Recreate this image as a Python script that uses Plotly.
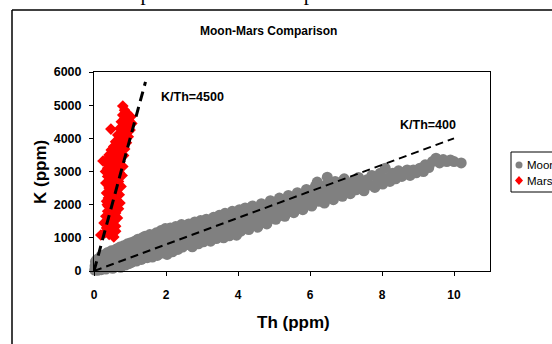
import plotly.graph_objects as go

# ---------------- data ----------------
moon_th = [0.02,0.03,0.04,0.06,0.07,0.08,0.1,0.1,0.12,0.13,0.15,0.16,0.18,0.2,0.2,0.22,0.24,0.25,0.27,0.28,
           0.3,0.32,0.33,0.35,0.37,0.38,0.4,0.42,0.44,0.46,0.48,0.5,0.52,0.53,0.55,0.57,0.6,0.62,0.64,0.65,
           0.68,0.7,0.72,0.74,0.75,0.78,0.8,0.82,0.85,0.87,0.88,0.9,0.93,0.95,0.97,0.98,1.0,
           1.02,1.04,1.06,1.08,1.1,1.13,1.15,1.18,1.2,1.22,1.25,1.28,1.3,1.32,1.34,1.37,1.4,1.42,1.45,1.48,
           1.5,1.52,1.55,1.58,1.6,1.62,1.65,1.68,1.7,1.73,1.76,1.78,1.8,1.83,1.86,1.88,1.9,1.93,1.96,1.98,
           2.0,2.03,2.06,2.1,2.12,2.15,2.18,2.2,2.24,2.27,2.3,2.33,2.36,2.4,2.43,2.46,2.5,2.53,2.56,2.6,
           2.63,2.66,2.7,2.73,2.76,2.8,2.83,2.86,2.9,2.93,2.96,3.0,
           3.04,3.08,3.12,3.16,3.2,3.24,3.28,3.32,3.36,3.4,3.44,3.48,3.52,3.56,3.6,3.64,3.68,3.72,3.76,3.8,
           3.84,3.88,3.92,3.96,4.0,
           4.04,4.08,4.12,4.16,4.2,4.25,4.3,4.35,4.4,4.45,4.5,4.55,4.6,4.65,4.7,4.75,4.8,4.85,4.9,4.95,5.0,
           5.05,5.1,5.15,5.2,5.25,5.3,5.35,5.4,5.45,5.5,5.55,5.6,5.65,5.7,5.75,5.8,5.85,5.9,5.95,6.0,
           6.05,6.1,6.15,6.2,6.25,6.3,6.35,6.4,6.45,6.48,6.52,6.56,6.6,6.65,6.7,6.75,6.8,6.85,6.9,6.95,7.0,
           7.05,7.12,7.2,7.28,7.35,7.42,7.5,7.58,7.65,7.72,7.8,7.88,7.95,
           8.02,8.09,8.15,8.22,8.3,8.38,8.46,8.55,8.64,8.7,8.78,8.87,8.95,
           9.05,9.15,9.2,9.3,9.4,9.5,9.6,9.7,9.8,9.9,10.0,10.2]
moon_k = [30,150,280,80,200,340,20,130,250,380,70,190,320,40,450,160,290,400,100,230,
          500,340,60,440,260,560,120,370,500,220,610,320,80,460,170,560,280,660,140,420,
          230,580,720,110,370,490,260,760,620,180,420,540,820,330,220,680,470,
          850,260,590,380,730,900,500,300,660,960,440,790,580,350,1000,700,480,1050,820,400,
          640,930,1100,520,760,420,1000,880,620,1150,470,800,1050,700,1220,540,920,1100,620,1280,
          820,500,1020,700,1300,900,580,1150,780,1340,1000,650,1220,880,1400,720,1080,960,1300,800,
          1420,1150,880,730,1270,1480,1000,1150,820,1380,1520,1080,
          880,1250,1560,1000,1400,900,1180,1620,1300,980,1500,1680,1100,1360,1000,1740,1560,1220,1060,1440,
          1800,1300,1620,1080,1500,
          1850,1200,1680,1380,1900,1550,1250,1760,1960,1450,1640,1320,1850,2030,1560,1720,1420,1950,2120,1640,1820,
          1560,2000,2200,1720,1900,1650,2080,2280,1800,1980,1760,2150,2360,1900,2060,1850,2250,2460,2000,2150,
          1960,2350,2560,2680,2100,2250,2450,2050,2600,2830,2200,2380,2520,2150,2700,2300,2450,2620,2250,2780,2400,
          2550,2330,2700,2450,2820,2580,2420,2750,2600,2880,2520,2700,2950,
          2620,3100,2800,2700,2950,2780,3020,2850,2985,3045,2880,3045,2960,
          3100,3000,3200,3120,3300,3400,3260,3360,3300,3350,3300,3260]

mars_th = [0.19,0.55,0.3,0.42,0.5,0.35,0.6,0.45,0.28,0.55,0.4,0.65,0.33,0.5,0.6,0.38,0.46,0.68,0.55,0.37,
           0.72,0.48,0.62,0.4,0.56,0.7,0.35,0.5,0.64,0.42,0.75,0.55,0.33,0.68,0.47,0.6,0.38,0.78,0.52,0.7,
           0.32,0.45,0.62,0.8,0.4,0.55,0.25,0.72,0.35,0.5,0.65,0.82,0.42,0.58,0.75,0.48,0.85,0.62,0.55,0.78,
           0.68,0.9,0.6,0.83,0.73,0.95,0.66,0.88,0.78,0.47,1.0,0.72,0.92,0.82,1.05,0.76,0.96,0.86,1.02,0.8,
           0.92,0.85,0.8,
           0.45,0.52,0.58,0.45,0.6,0.5,0.68,0.45,0.7,0.75,0.86,0.9,0.4,0.65,0.6,0.35,0.55,0.38]
mars_k = [1085,1025,1150,1100,1250,1300,1350,1400,1450,1500,1550,1600,1650,1700,1750,1800,1850,1880,1950,2000,
          2050,2100,2150,2200,2250,2300,2350,2400,2450,2500,2550,2600,2650,2700,2750,2800,2850,2880,2920,2970,
          3000,3050,3100,3150,3200,3250,3316,3300,3350,3400,3450,3480,3500,3550,3600,3650,3680,3700,3750,3800,
          3850,3870,3900,3950,4000,4050,4100,4150,4200,4280,4250,4300,4350,4400,4450,4500,4550,4600,4650,4700,
          4750,4850,4975,
          1600,2000,2350,2600,3000,3100,3300,3450,3700,4100,4300,4500,1950,2650,1200,2100,2850,3100]

line4500_th = [0.0, 1.43]
line4500_k = [0, 5700]
line400_th = [0.0, 10.0]
line400_k = [0, 4000]

x_ticks = [0, 2, 4, 6, 8, 10]
y_ticks = [0, 1000, 2000, 3000, 4000, 5000, 6000]

# ---------------- layout helpers (pixel -> paper) ----------------
W, H = 552, 344
L, R, T, B = 94, 490, 72, 271


def px(x):
    return (x - L) / (R - L)


def py(y):
    return (B - y) / (B - T)


FONT = "Liberation Sans, Arial, sans-serif"

fig = go.Figure()

fig.add_trace(go.Scatter(x=moon_th, y=moon_k, mode="markers", name="Moon",
                         marker=dict(symbol="circle", size=11, color="#808080", line=dict(width=0)),
                         showlegend=False, cliponaxis=False))
fig.add_trace(go.Scatter(x=mars_th, y=mars_k, mode="markers", name="Mars",
                         marker=dict(symbol="diamond", size=9, color="#ff0000", line=dict(width=0)),
                         showlegend=False, cliponaxis=False))
fig.add_trace(go.Scatter(x=line4500_th, y=line4500_k, mode="lines",
                         line=dict(color="black", width=3, dash="10px,6px"),
                         showlegend=False, cliponaxis=False))
fig.add_trace(go.Scatter(x=line400_th, y=line400_k, mode="lines",
                         line=dict(color="black", width=2, dash="8px,5px"),
                         showlegend=False, cliponaxis=False))

shapes = [
    # outer chart frame (left & top visible)
    dict(type="line", xref="paper", yref="paper", x0=px(12), x1=px(12), y0=py(10), y1=py(360),
         line=dict(color="black", width=1.5)),
    dict(type="line", xref="paper", yref="paper", x0=px(12), x1=px(570), y0=py(10), y1=py(10),
         line=dict(color="black", width=1.5)),
    # legend box
    dict(type="rect", xref="paper", yref="paper", x0=px(511), x1=px(570), y0=py(152), y1=py(192),
         line=dict(color="black", width=1), fillcolor="white"),
    dict(type="circle", xref="paper", yref="paper", x0=px(515.5), x1=px(522.5), y0=py(161.5), y1=py(168.5),
         line=dict(width=0), fillcolor="#808080"),
    dict(type="path", xref="paper", yref="paper",
         path=f"M {px(519)} {py(176)} L {px(523)} {py(180.5)} L {px(519)} {py(185)} L {px(515)} {py(180.5)} Z",
         line=dict(width=0), fillcolor="#ff0000"),
]

annotations = [
    dict(text="<b>Moon-Mars Comparison</b>", x=px(268), y=py(31), xref="paper", yref="paper",
         showarrow=False, font=dict(family=FONT, size=12, color="black"), xanchor="center", yanchor="middle"),
    dict(text="<b>K (ppm)</b>", x=px(40), y=py(172), xref="paper", yref="paper", textangle=-90,
         showarrow=False, font=dict(family=FONT, size=17, color="black"), xanchor="center", yanchor="middle"),
    dict(text="<b>Th (ppm)</b>", x=px(293), y=py(322), xref="paper", yref="paper",
         showarrow=False, font=dict(family=FONT, size=17, color="black"), xanchor="center", yanchor="middle"),
    dict(text="<b>K/Th=4500</b>", x=px(159), y=py(97), xref="paper", yref="paper",
         showarrow=False, font=dict(family=FONT, size=12.5, color="black"), xanchor="left", yanchor="middle"),
    dict(text="<b>K/Th=400</b>", x=px(398), y=py(125), xref="paper", yref="paper",
         showarrow=False, font=dict(family=FONT, size=12.5, color="black"), xanchor="left", yanchor="middle"),
    dict(text="Moon", x=px(525), y=py(165), xref="paper", yref="paper",
         showarrow=False, font=dict(family=FONT, size=11.5, color="black"), xanchor="left", yanchor="middle"),
    dict(text="Mars", x=px(525), y=py(181), xref="paper", yref="paper",
         showarrow=False, font=dict(family=FONT, size=11.5, color="black"), xanchor="left", yanchor="middle"),
    dict(text="one about the planet Sodium composition be", x=px(20), y=py(7), xref="paper", yref="paper",
         showarrow=False, font=dict(family="Liberation Serif, Times New Roman, serif", size=21, color="black"),
         xanchor="left", yanchor="bottom"),
]

fig.update_layout(
    width=W, height=H,
    margin=dict(l=L, r=W - R, t=T, b=H - B, pad=0),
    paper_bgcolor="white", plot_bgcolor="white",
    showlegend=False,
    shapes=shapes, annotations=annotations,
    xaxis=dict(range=[0, 11], tickvals=x_ticks, ticktext=[str(v) for v in x_ticks],
               showgrid=False, zeroline=False, showline=True, linecolor="black", linewidth=1, mirror=True,
               ticks="outside", ticklen=4, tickcolor="black", ticklabelstandoff=9,
               tickfont=dict(family=FONT, size=12, color="black", weight="bold")),
    yaxis=dict(range=[0, 6000], tickvals=y_ticks, ticktext=[str(v) for v in y_ticks],
               showgrid=False, zeroline=False, showline=True, linecolor="black", linewidth=1, mirror=True,
               ticks="outside", ticklen=4, tickcolor="black", ticklabelstandoff=5,
               tickfont=dict(family=FONT, size=12.5, color="black", weight="bold")),
)

fig.write_html("out.html", config={"displayModeBar": False},
               post_script="document.body.style.margin='0px';document.body.style.overflow='hidden';")
